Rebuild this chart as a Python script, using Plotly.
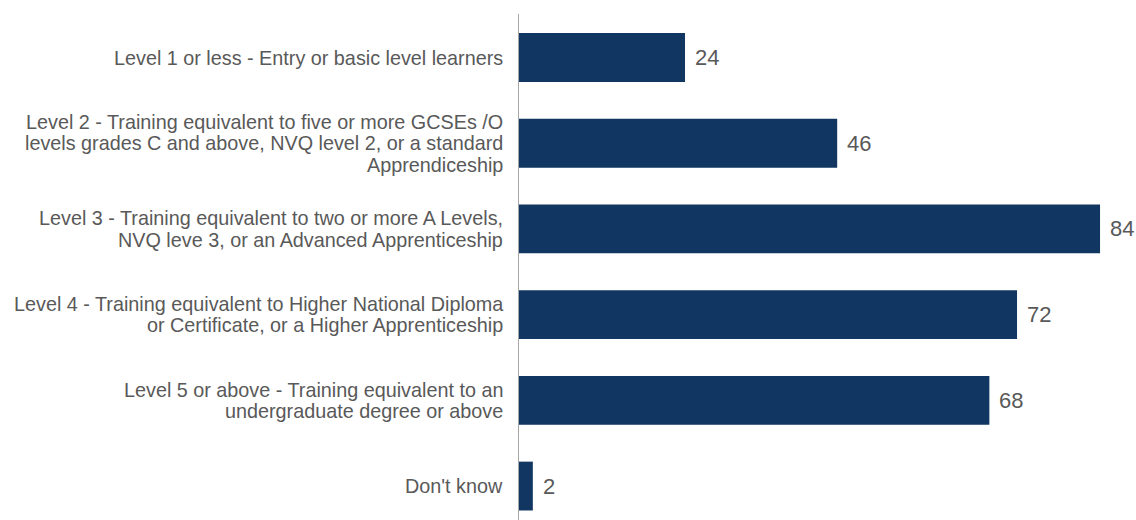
import plotly.graph_objects as go

categories = [
    "Level 1 or less - Entry or basic level learners",
    "Level 2 - Training equivalent to five or more GCSEs /O<br>levels grades C and above, NVQ level 2, or a standard<br>Apprendiceship",
    "Level 3 - Training equivalent to two or more A Levels,<br>NVQ leve 3, or an Advanced Apprenticeship",
    "Level 4 - Training equivalent to Higher National Diploma<br>or Certificate, or a Higher Apprenticeship",
    "Level 5 or above - Training equivalent to an<br>undergraduate degree or above",
    "Don't know",
]
values = [24, 46, 84, 72, 68, 2]

BAR_COLOR = "#103661"
TEXT_COLOR = "#595959"
FONT = "Liberation Sans, Arial, sans-serif"
LABEL_SIZE = 19.8
VALUE_SIZE = 22
LINE_GAP = 21.5  # px between wrapped category-label lines

positions = list(range(len(categories)))

fig = go.Figure(
    go.Bar(
        y=positions,
        x=values,
        orientation="h",
        marker=dict(color=BAR_COLOR, line=dict(width=0)),
        width=0.57,
        hoverinfo="skip",
    )
)

annotations = []
# Category labels, one annotation per wrapped line for tighter line spacing
for pos, label in zip(positions, categories):
    lines = label.split("<br>")
    n = len(lines)
    for i, line in enumerate(lines):
        annotations.append(dict(
            x=0, xref="paper", xanchor="right", xshift=-14,
            y=pos, yref="y", yanchor="middle",
            yshift=-(i - (n - 1) / 2) * LINE_GAP,
            text=line, showarrow=False,
            font=dict(size=LABEL_SIZE, color=TEXT_COLOR, family=FONT),
        ))
# Value labels at the end of each bar
for pos, v in zip(positions, values):
    annotations.append(dict(
        x=v, xref="x", xanchor="left", xshift=8,
        y=pos, yref="y", yanchor="middle",
        text=str(v), showarrow=False,
        font=dict(size=VALUE_SIZE, color=TEXT_COLOR, family=FONT),
    ))

fig.update_layout(
    width=1136,
    height=520,
    margin=dict(l=519, r=6, t=14, b=0),
    paper_bgcolor="white",
    plot_bgcolor="white",
    showlegend=False,
    font=dict(family=FONT, color=TEXT_COLOR, size=16),
    annotations=annotations,
    xaxis=dict(
        range=[0, 88.33],
        showgrid=False,
        zeroline=False,
        showticklabels=False,
        showline=False,
        fixedrange=True,
    ),
    yaxis=dict(
        range=[5.396, -0.508],
        showticklabels=False,
        showgrid=False,
        zeroline=False,
        showline=True,
        linecolor="#a6a6a6",
        linewidth=1,
        ticks="",
        automargin=False,
        fixedrange=True,
    ),
)

fig.write_html("out.html", config={"displayModeBar": False})
